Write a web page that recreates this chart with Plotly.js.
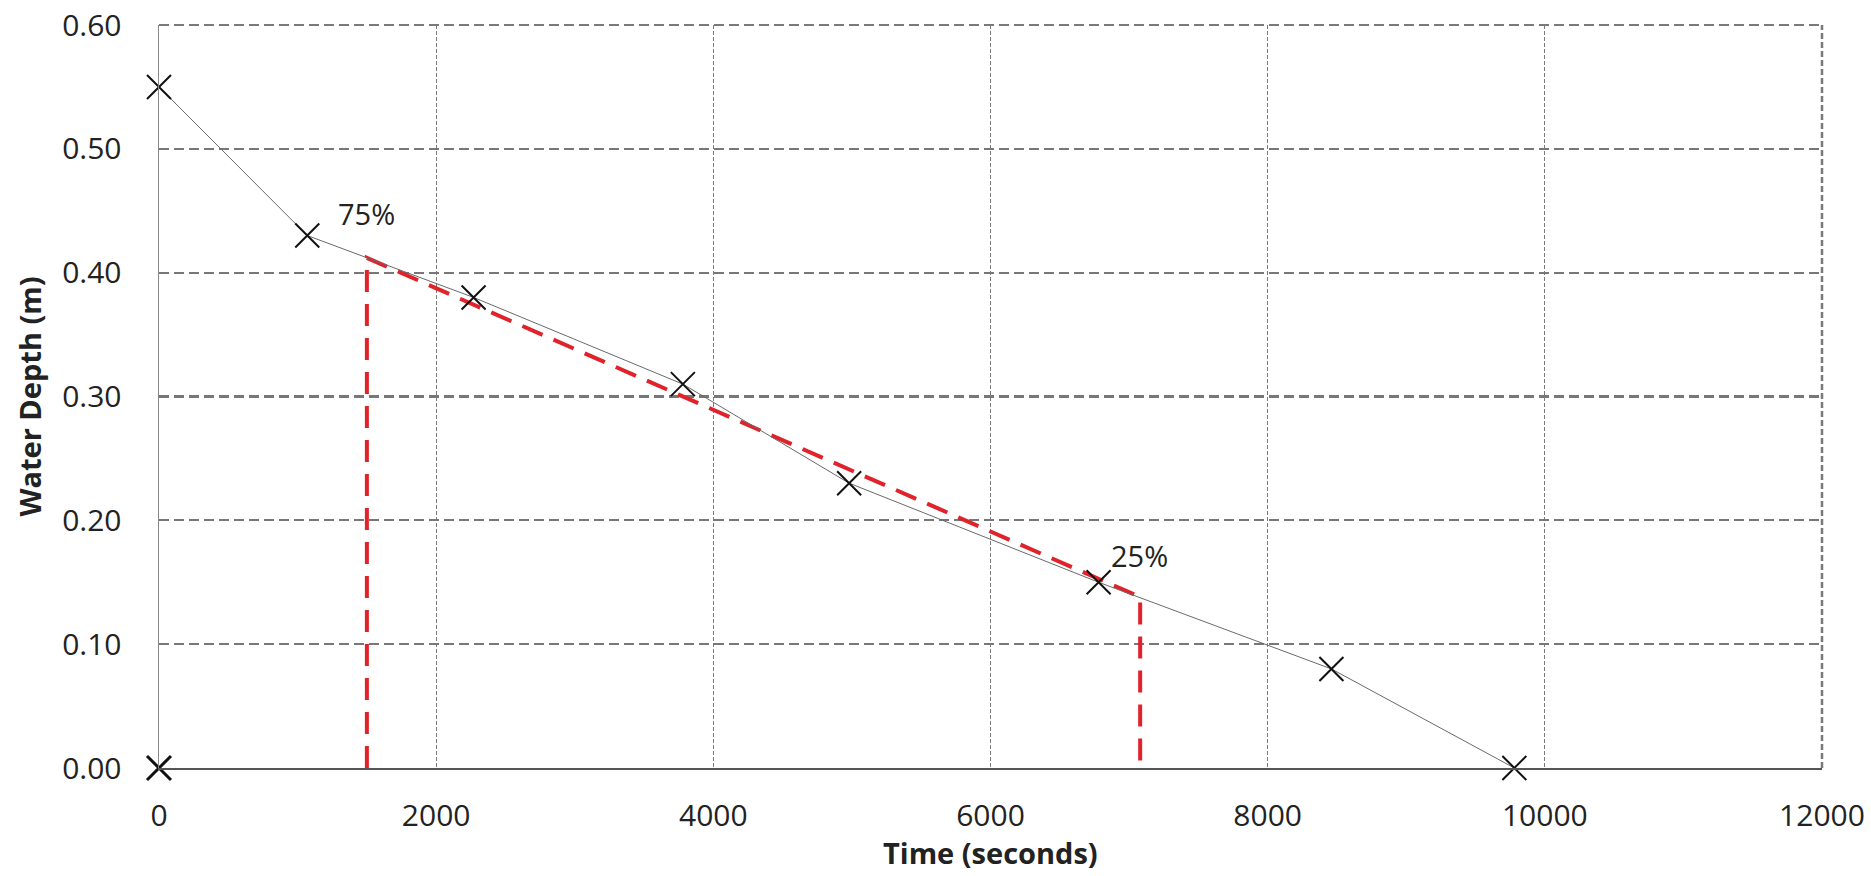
<!DOCTYPE html>
<html>
<head>
<meta charset="utf-8">
<script src="https://cdn.plot.ly/plotly-3.0.1.min.js"></script>
<style>html,body{margin:0;padding:0;background:#fff;}#chart{width:1871px;height:876px;}</style>
</head>
<body>
<div id="chart"></div>
<script>
// Measured data (time in seconds, water depth in m)
const timeSec = [0, 1070, 2270, 3780, 4980, 6780, 8460, 9780];
const depthM = [0.55, 0.43, 0.38, 0.31, 0.23, 0.15, 0.08, 0.00];
// Isolated point at origin
const originTime = [0];
const originDepth = [0];
// Red dashed construction line (75% / 25% levels)
const refTime = [1500, 1500, 7080, 7080];
const refDepth = [0, 0.412, 0.138, 0];
// Labels
const labelText = ["75%", "25%"];
const labelTime = [1495, 7076];
const labelDepth = [0.448, 0.172];
const xTicks = [0, 2000, 4000, 6000, 8000, 10000, 12000];
const yTicks = [0, 0.1, 0.2, 0.3, 0.4, 0.5, 0.6];
const yTickText = ["0.00", "0.10", "0.20", "0.30", "0.40", "0.50", "0.60"];
const xTitle = "Time (seconds)";
const yTitle = "Water Depth (m)";

const FONT = "Open Sans, DejaVu Sans, sans-serif";

const traces = [
  {
    x: refTime, y: refDepth, mode: "lines", type: "scatter",
    line: {color: "#e0222a", width: 4, dash: "22px,12px"},
    hoverinfo: "skip", showlegend: false
  },
  {
    x: timeSec, y: depthM, mode: "lines+markers", type: "scatter",
    line: {color: "#6a6a6a", width: 1},
    marker: {symbol: "x-thin", size: 24, line: {color: "#111", width: 2}},
    showlegend: false, cliponaxis: false
  },
  {
    x: originTime, y: originDepth, mode: "markers", type: "scatter",
    marker: {symbol: "x-thin", size: 24, line: {color: "#111", width: 3}},
    showlegend: false, cliponaxis: false
  }
];

const annotations = labelText.map((t, i) => ({
  x: labelTime[i], y: labelDepth[i], xref: "x", yref: "y",
  text: t, showarrow: false,
  font: {family: FONT, size: 29, color: "#222"}
}));
// x-axis title placed low near the bottom edge as in the reference
annotations.push({
  xref: "paper", yref: "paper", x: 0.5, y: 0, yanchor: "middle", yshift: -84,
  text: "<b>" + xTitle + "</b>", showarrow: false, borderpad: 0,
  font: {family: FONT, size: 29, color: "#222"}
});

const layout = {
  width: 1871, height: 876,
  margin: {l: 159, r: 49, t: 25, b: 108},
  paper_bgcolor: "#fff", plot_bgcolor: "#fff",
  showlegend: false,
  xaxis: {
    range: [0, 12000], tickvals: xTicks, ticktext: xTicks.map(String),
    showgrid: true, gridcolor: "#7a7a7a", gridwidth: 1, griddash: "4px,2px",
    showline: true, linecolor: "#555", linewidth: 2,
    zeroline: false, ticks: "", ticklabelstandoff: 20,
    tickfont: {family: FONT, size: 30, color: "#222"},
    automargin: false
  },
  yaxis: {
    range: [0, 0.6], tickvals: yTicks, ticktext: yTickText,
    showgrid: true, gridcolor: "#777", gridwidth: 2.2, griddash: "10px,5px",
    showline: true, linecolor: "#888", linewidth: 1.5,
    zeroline: false, ticks: "", ticklabelstandoff: 30,
    tickfont: {family: FONT, size: 30, color: "#222"},
    title: {text: "<b>" + yTitle + "</b>", font: {family: FONT, size: 29, color: "#222"}, standoff: 12},
    automargin: false
  },
  annotations: annotations,
  shapes: [
    {type: "line", xref: "paper", yref: "paper", x0: 1, x1: 1, y0: 0, y1: 1,
     line: {color: "#7a7a7a", width: 2.5, dash: "6px,3px"}},
    {type: "line", xref: "paper", yref: "paper", x0: 0, x1: 1, y0: 1, y1: 1,
     line: {color: "#7a7a7a", width: 2, dash: "10px,5px"}}
  ]
};

Plotly.newPlot("chart", traces, layout, {displayModeBar: false, staticPlot: true});
</script>
</body>
</html>
